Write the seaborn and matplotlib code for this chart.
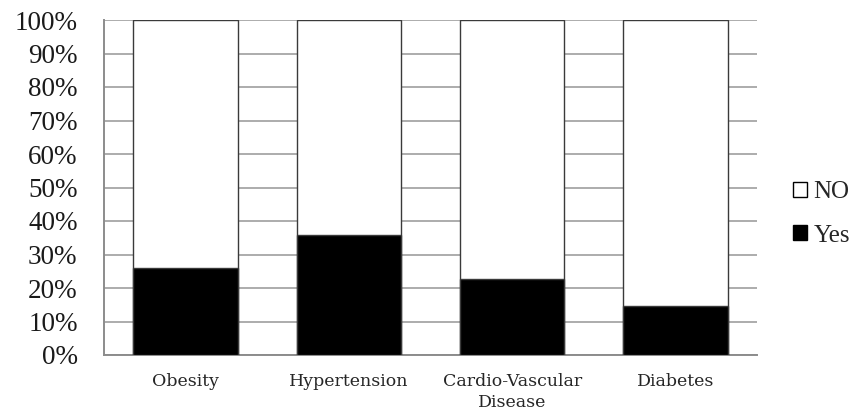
import matplotlib
matplotlib.use("Agg")
import matplotlib.pyplot as plt
import seaborn as sns
import pandas as pd
from matplotlib.patches import Patch

categories = ["Obesity", "Hypertension", "Cardio-Vascular\nDisease", "Diabetes"]
yes_vals = [26.1, 35.8, 22.7, 14.7]
no_vals = [100 - v for v in yes_vals]
ytick_labels = [f"{v}%" for v in range(0, 101, 10)]

df = pd.DataFrame({"cat": categories, "yes": yes_vals,
                   "total": [y + n for y, n in zip(yes_vals, no_vals)]})

sns.set_style("white")
fig = plt.figure(figsize=(8.62, 4.13), dpi=100)
ax = fig.add_axes([104/862, 1-355/413, (757-104)/862, (355-20)/413])

edge = "#3a3a3a"
sns.barplot(data=df, x="cat", y="total", color="white", edgecolor=edge,
            linewidth=1.0, width=0.64, ax=ax, zorder=3, saturation=1)
sns.barplot(data=df, x="cat", y="yes", color="black", edgecolor=edge,
            linewidth=1.0, width=0.64, ax=ax, zorder=4, saturation=1)

ax.set_ylim(0, 100)
ax.set_xlim(-0.5, 3.5)
ax.set_yticks(range(0, 101, 10))
ax.set_yticklabels(ytick_labels, fontfamily="Liberation Serif",
                   fontsize=19.5, color="#1a1a1a")
ax.set_xticks(range(len(categories)))
ax.set_xticklabels(categories, fontfamily="DejaVu Serif", fontsize=12.5,
                   linespacing=1.3)
ax.set_xlabel("")
ax.set_ylabel("")
ax.tick_params(axis="x", length=0, pad=13)
ax.tick_params(axis="y", length=0, pad=19)
ax.yaxis.grid(True, color="#a6a6a6", linewidth=1.3, zorder=0)
ax.set_axisbelow(True)
for s in ["top", "right"]:
    ax.spines[s].set_visible(False)
for s in ["left", "bottom"]:
    ax.spines[s].set_color("#8c8c8c")
    ax.spines[s].set_linewidth(1.4)

handles = [Patch(facecolor="white", edgecolor="black", linewidth=1.0, label="NO"),
           Patch(facecolor="black", edgecolor="black", linewidth=1.0, label="Yes")]
leg = fig.legend(handles=handles, loc="center left",
                 bbox_to_anchor=(781/862, 1-214/413), frameon=False,
                 prop={"family": "Liberation Serif", "size": 18},
                 handlelength=0.55, handleheight=0.55, handletextpad=0.25,
                 labelspacing=0.85, borderpad=0)

fig.savefig("out.png", dpi=100)
